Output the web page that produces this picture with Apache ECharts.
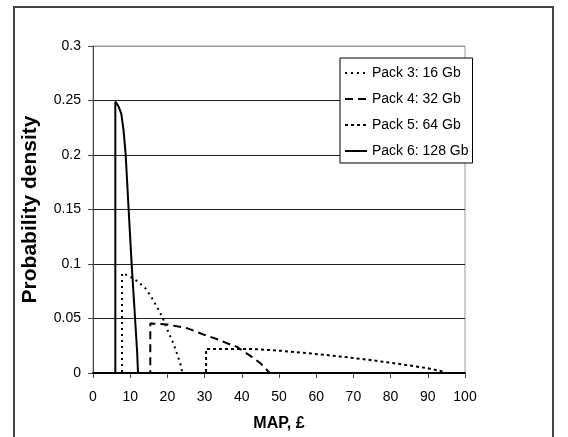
<!DOCTYPE html>
<html>
<head>
<meta charset="utf-8">
<script src="https://cdn.jsdelivr.net/npm/echarts@6/dist/echarts.min.js"></script>
<style>
html,body{margin:0;padding:0;background:#fff;}
#chart{width:568px;height:437px;}
</style>
</head>
<body>
<div id="chart"></div>
<script>
// Data (x = MAP in £, y = probability density)
const seriesNames = ['Pack 3: 16 Gb', 'Pack 4: 32 Gb', 'Pack 5: 64 Gb', 'Pack 6: 128 Gb'];
const pack3 = [[0,0],[7.8,0],[7.8,0.0915],[9.5,0.0895],[12,0.084],[14.2,0.0773],[15.7,0.0697],[17.7,0.0576],[18.8,0.05],[20.4,0.0364],[21.6,0.0273],[22.7,0.0167],[23.7,0.006],[24,0],[100,0]];
const pack4 = [[0,0],[15.4,0],[15.4,0.0455],[20,0.0445],[25.4,0.041],[30.1,0.0348],[34,0.0303],[37.1,0.0258],[38.6,0.0242],[42.5,0.0152],[45,0.009],[47.5,0],[100,0]];
const pack5 = [[0,0],[30.4,0],[30.4,0.022],[35,0.0221],[40,0.0221],[43,0.022],[50.8,0.0203],[58.6,0.0179],[66.3,0.0152],[74.1,0.0121],[81.9,0.0085],[89.7,0.0045],[93.9,0.0015],[95,0],[100,0]];
const pack6 = [[0,0],[6.0,0],[6.0,0.249],[6.8,0.245],[7.6,0.238],[8.2,0.223],[8.76,0.2015],[9.15,0.177],[9.53,0.153],[9.92,0.129],[10.31,0.1045],[10.7,0.083],[11.09,0.062],[11.47,0.041],[11.86,0.0197],[12.1,0],[100,0]];
const xTicks = [0,10,20,30,40,50,60,70,80,90,100];
const yTicks = [0,0.05,0.1,0.15,0.2,0.25,0.3];

const font = 'Arial, "Liberation Sans", sans-serif';
const chart = echarts.init(document.getElementById('chart'), null, {renderer:'canvas'});
const mk = (name, data, type, width) => ({
  name, type:'line', data, symbol:'none', smooth:false, animation:false,
  lineStyle:{color:'#000', width:width, type:type}, itemStyle:{color:'#000'}, z: 3
});
chart.setOption({
  animation:false,
  backgroundColor:'#fff',
  textStyle:{fontFamily:font},
  graphic:[{type:'rect', shape:{x:14, y:7, width:539, height:500}, style:{fill:'none', stroke:'#444', lineWidth:2}, z:-1}],
  grid:{left:93, right:103, top:46, bottom:61, show:true, borderColor:'#999', borderWidth:1},
  legend:{
    orient:'vertical', left:340, top:58, data:seriesNames,
    backgroundColor:'#fff', borderColor:'#000', borderWidth:1, padding:[8,4,5,4],
    itemWidth:22, itemHeight:14, itemGap:12,
    itemStyle:{opacity:0},
    textStyle:{fontSize:14, color:'#000', fontFamily:font}
  },
  xAxis:{
    type:'value', min:xTicks[0], max:xTicks[xTicks.length-1], interval:10,
    name:'MAP, £', nameLocation:'middle', nameGap:43,
    nameTextStyle:{fontSize:16, fontWeight:'bold', color:'#000', fontFamily:font},
    axisLine:{lineStyle:{color:'#000', width:2}},
    axisTick:{show:true, inside:false, length:5, lineStyle:{color:'#444'}},
    axisLabel:{fontSize:14, color:'#000', margin:17, fontFamily:font},
    splitLine:{show:false}
  },
  yAxis:{
    type:'value', min:yTicks[0], max:yTicks[yTicks.length-1], interval:0.05,
    name:'Probability density', nameLocation:'middle', nameGap:52, nameRotate:90,
    nameTextStyle:{fontSize:21, fontWeight:'bold', color:'#000', fontFamily:font},
    axisLine:{show:true, lineStyle:{color:'#444', width:1}},
    axisTick:{show:true, inside:false, length:5, lineStyle:{color:'#444'}},
    axisLabel:{fontSize:14, color:'#000', margin:12, fontFamily:font,
      formatter:(v)=>String(+v.toFixed(2))},
    splitLine:{show:true, lineStyle:{color:['#222','#222','#222','#222','#222','#222','#999'], width:1}}
  },
  series:[
    mk(seriesNames[0], pack3, [2,4], 2),
    mk(seriesNames[1], pack4, [8,5], 2),
    mk(seriesNames[2], pack5, [3,3], 2),
    mk(seriesNames[3], pack6, 'solid', 2)
  ]
});
</script>
</body>
</html>
